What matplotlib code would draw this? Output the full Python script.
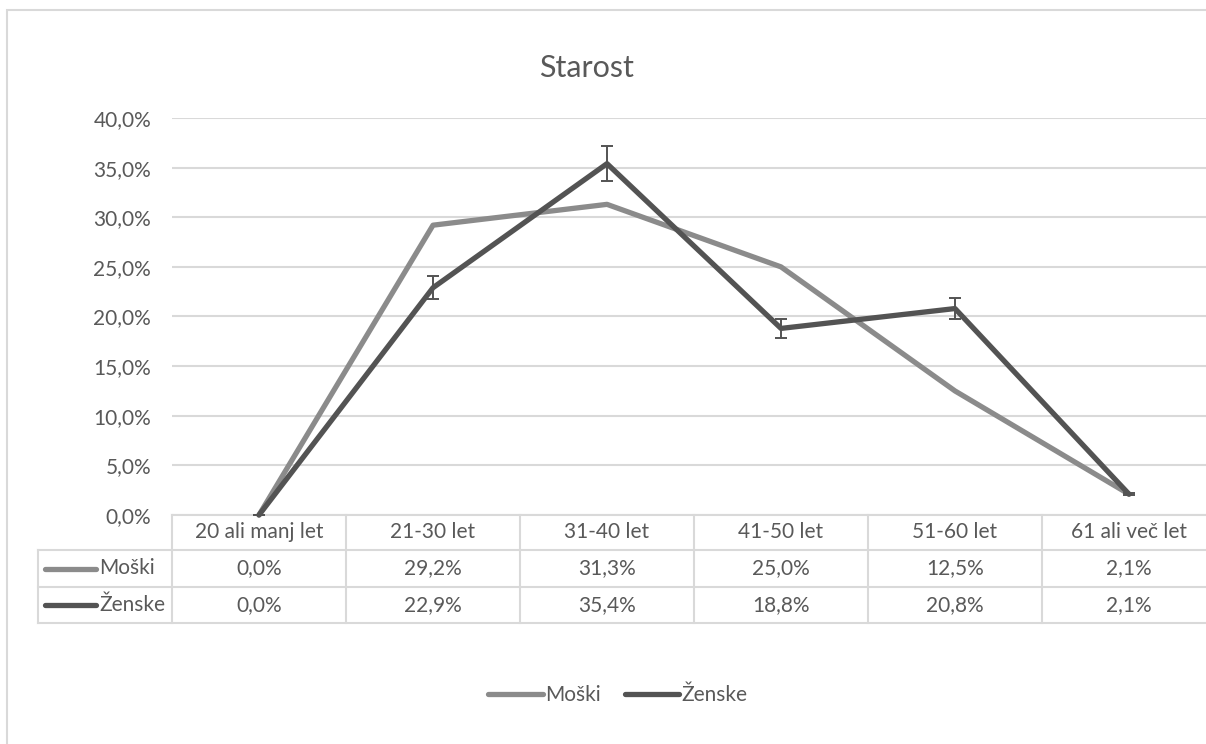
import matplotlib
matplotlib.use("Agg")
import matplotlib.pyplot as plt
from matplotlib.transforms import blended_transform_factory
from matplotlib.lines import Line2D
from matplotlib.patches import Rectangle

plt.rcParams['font.family'] = ['Lato', 'DejaVu Sans']

# Data
categories = ["20 ali manj let", "21-30 let", "31-40 let", "41-50 let", "51-60 let", "61 ali več let"]
moski = [0.0, 29.2, 31.3, 25.0, 12.5, 2.1]
zenske = [0.0, 22.9, 35.4, 18.8, 20.8, 2.1]
zenske_err = [0.0, 1.15, 1.77, 0.94, 1.04, 0.11]
series_names = ["Moški", "Ženske"]
yticks = [0, 5, 10, 15, 20, 25, 30, 35, 40]

TEXT = "#595959"
GRID = "#d9d9d9"
C_M = "#8b8b8b"
C_Z = "#535353"
FS = 15

W, H = 1206, 744
fig = plt.figure(figsize=(W / 100, H / 100), dpi=100)

def fy(py):
    return (H - py) / H

def fx(px):
    return px / W

# Outer chart border
fig.patches.append(Rectangle((fx(7), fy(760)), fx(1230) - fx(7), fy(10) - fy(760),
                             transform=fig.transFigure, fill=False,
                             edgecolor=GRID, lw=1.5))

left, right = 172, 1216
top, bottom = 118, 515
ax = fig.add_axes([fx(left), fy(bottom), fx(right) - fx(left), fy(top) - fy(bottom)])
ax.set_xlim(-0.5, len(categories) - 0.5)
ax.set_ylim(0, 40)
for s in ax.spines.values():
    s.set_visible(False)
ax.set_xticks([])
ax.set_yticks(yticks)
ax.set_yticklabels([f"{v:.1f}%".replace(".", ",") for v in yticks], fontsize=FS, color=TEXT)
ax.tick_params(axis='y', length=0, pad=15)
ax.yaxis.grid(True, color=GRID, lw=1.5)
ax.set_axisbelow(True)

x = list(range(len(categories)))
ax.plot(x, moski, color=C_M, lw=3.8, solid_capstyle='round', solid_joinstyle='round',
        zorder=3, clip_on=False)
ax.plot(x, zenske, color=C_Z, lw=3.8, solid_capstyle='round', solid_joinstyle='round',
        zorder=4, clip_on=False)
ax.errorbar(x, zenske, yerr=zenske_err, fmt='none', ecolor=C_Z, elinewidth=1.4,
            capsize=4.5, capthick=1.4, zorder=5)

fig.text(fx(586), fy(68), "Starost", fontsize=22, color=TEXT, ha='center', va='center')

# Data table under the plot
tr = blended_transform_factory(ax.transData, fig.transFigure)
row_lines = [515, 550, 587, 623]
label_left = 38
xl, xr = ax.get_xlim()

for i, py in enumerate(row_lines):
    if i == 0:
        ax.plot([xl, xr], [fy(py)] * 2, transform=tr, color=GRID, lw=1.5, clip_on=False)
    else:
        fig.add_artist(Line2D([fx(label_left), 1.02], [fy(py)] * 2, transform=fig.transFigure,
                              color=GRID, lw=1.5))
for k in range(len(categories) + 1):
    xb = k - 0.5
    ax.plot([xb, xb], [fy(515), fy(623)], transform=tr, color=GRID, lw=1.5, clip_on=False)
fig.add_artist(Line2D([fx(label_left)] * 2, [fy(550), fy(623)], transform=fig.transFigure,
                      color=GRID, lw=1.5))

def mid(a, b):
    return fy((a + b) / 2)

for xi, cat in zip(x, categories):
    ax.text(xi, mid(515, 550), cat, transform=tr, ha='center', va='center',
            fontsize=FS, color=TEXT, clip_on=False)
for r, (name, vals, col) in enumerate([(series_names[0], moski, C_M), (series_names[1], zenske, C_Z)]):
    ya, yb = row_lines[r + 1], row_lines[r + 2]
    yc = mid(ya, yb)
    fig.add_artist(Line2D([fx(45), fx(96)], [yc, yc], transform=fig.transFigure,
                          color=col, lw=3.8, solid_capstyle='round'))
    fig.text(fx(99), yc, name, fontsize=FS, color=TEXT, ha='left', va='center')
    for xi, v in zip(x, vals):
        ax.text(xi, yc, f"{v:.1f}%".replace(".", ","), transform=tr, ha='center',
                va='center', fontsize=FS, color=TEXT, clip_on=False)

# Legend
handles = [Line2D([], [], color=C_M, lw=3.8, solid_capstyle='round'),
           Line2D([], [], color=C_Z, lw=3.8, solid_capstyle='round')]
fig.legend(handles, series_names, loc='center', bbox_to_anchor=(fx(618), fy(695)),
           ncol=2, frameon=False, fontsize=FS, labelcolor=TEXT, handlelength=2.6,
           handletextpad=0.1, columnspacing=1.2)

fig.savefig("out.png", dpi=100, facecolor="white")
